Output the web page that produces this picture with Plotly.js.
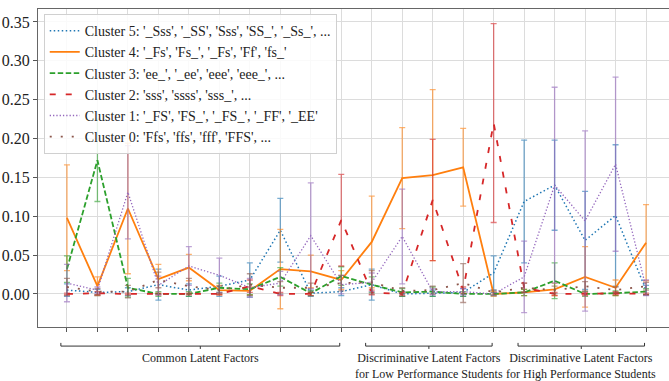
<!DOCTYPE html>
<html>
<head>
<meta charset="utf-8">
<script src="https://cdn.plot.ly/plotly-3.0.1.min.js"></script>
<style>
html,body{margin:0;padding:0;overflow:hidden;background:#fff;}
#chart{width:680px;height:381px;}
</style>
</head>
<body>
<div id="chart"></div>
<script>
// Category indices (20 latent factors)
const categories = [0,1,2,3,4,5,6,7,8,9,10,11,12,13,14,15,16,17,18,19];

// Legend names
const names = [
  "Cluster 5: '_Sss', '_SS', 'Sss', 'SS_', '_Ss_', ...",
  "Cluster 4: '_Fs', 'Fs_', '_Fs', 'Ff', 'fs_'",
  "Cluster 3: 'ee_', '_ee', 'eee', 'eee_', ...",
  "Cluster 2: 'sss', 'ssss', 'sss_', ...",
  "Cluster 1: '_FS', 'FS_', '_FS_', '_FF', '_EE'",
  "Cluster 0: 'Ffs', 'ffs', 'fff', 'FFS', ..."
];

// Series values (mean) and error (std)
const cluster5 = [0.005,0.002,0.003,0.012,0.005,0.010,0.018,0.082,0.001,0.003,0.012,0.000,0.001,0.002,0.027,0.119,0.140,0.069,0.101,0.005];
const cluster5Err = [0.008,0.004,0.005,0.020,0.008,0.013,0.022,0.041,0.004,0.005,0.020,0.003,0.004,0.005,0.022,0.079,0.058,0.063,0.091,0.006];

const cluster4 = [0.098,0.010,0.110,0.019,0.034,0.005,0.004,0.032,0.029,0.018,0.067,0.149,0.153,0.163,0.000,0.002,0.006,0.022,0.008,0.066];
const cluster4Err = [0.068,0.012,0.084,0.019,0.017,0.006,0.005,0.051,0.021,0.012,0.059,0.065,0.110,0.050,0.003,0.004,0.008,0.039,0.010,0.049];

const cluster3 = [0.032,0.172,0.008,0.000,0.000,0.008,0.006,0.022,0.001,0.023,0.012,0.002,0.003,0.000,0.000,0.002,0.017,0.000,0.001,0.003];
const cluster3Err = [0.017,0.053,0.012,0.003,0.003,0.006,0.007,0.012,0.003,0.012,0.010,0.005,0.006,0.003,0.002,0.004,0.023,0.003,0.003,0.004];

const cluster2 = [0.000,0.001,0.000,0.000,0.000,0.000,0.010,0.000,0.000,0.095,0.002,0.000,0.121,0.005,0.220,0.008,0.000,0.000,0.001,0.000];
const cluster2Err = [0.001,0.002,0.001,0.001,0.001,0.001,0.008,0.002,0.002,0.059,0.003,0.002,0.078,0.004,0.128,0.006,0.002,0.002,0.002,0.001];

const cluster1 = [0.014,0.005,0.131,0.011,0.036,0.024,0.008,0.014,0.075,0.012,0.015,0.074,0.003,0.003,0.000,0.022,0.140,0.094,0.167,0.008];
const cluster1Err = [0.024,0.004,0.060,0.012,0.025,0.022,0.012,0.015,0.068,0.012,0.012,0.061,0.004,0.004,0.002,0.046,0.126,0.116,0.112,0.010];

const cluster0 = [0.009,0.003,0.003,0.018,0.010,0.005,0.012,0.008,0.008,0.014,0.015,0.004,0.005,0.014,0.002,0.008,0.005,0.010,0.005,0.010];
const cluster0Err = [0.011,0.004,0.008,0.010,0.010,0.005,0.014,0.008,0.006,0.010,0.015,0.004,0.005,0.025,0.003,0.006,0.005,0.006,0.004,0.005];

// Y tick values
const yTicks = [0.00,0.05,0.10,0.15,0.20,0.25,0.30,0.35];

// Factor groups: label, first index, last index
const groupLabels = ["Common Latent Factors",
  "Discriminative Latent Factors<br>for Low Performance Students",
  "Discriminative Latent Factors<br>for High Performance Students"];
const groupStart = [0, 10, 15];
const groupEnd = [9, 14, 19];

const series = [cluster5, cluster4, cluster3, cluster2, cluster1, cluster0];
const errs = [cluster5Err, cluster4Err, cluster3Err, cluster2Err, cluster1Err, cluster0Err];
const colors = ['31,119,180','255,127,14','44,160,44','214,39,40','148,103,189','140,86,75'];
const dashes = ['1.5px,2.5px','solid','5.5px,2.5px','6px,10px','1.3px,2px','2px,9px'];
const widths = [1.5,1.8,1.8,1.8,1.3,1.8];

const traces = series.map((s,k)=>({
  type:'scatter', mode:'lines', x:categories, y:s, name:names[k],
  line:{color:'rgb('+colors[k]+')', dash:dashes[k], width:widths[k]},
  error_y:{type:'data', array:errs[k], visible:true, color:'rgba('+colors[k]+',0.6)', thickness:1.3, width:3}
}));

const shapes = [];
const annotations = [];
const yb = -0.060, yUp = -0.050, yDown = -0.069;
for (let g=0; g<groupLabels.length; g++){
  const lo = groupStart[g]-0.2, hi = groupEnd[g]-0.05, mid=(lo+hi)/2;
  const ln = {color:'#333', width:1};
  shapes.push({type:'line', xref:'x', yref:'paper', x0:lo, x1:hi, y0:yb, y1:yb, line:ln});
  shapes.push({type:'line', xref:'x', yref:'paper', x0:lo, x1:lo, y0:yb, y1:yUp, line:ln});
  shapes.push({type:'line', xref:'x', yref:'paper', x0:hi, x1:hi, y0:yb, y1:yUp, line:ln});
  shapes.push({type:'line', xref:'x', yref:'paper', x0:mid, x1:mid, y0:yb, y1:yDown, line:ln});
  annotations.push({xref:'x', yref:'paper', x:mid, y:-0.070, yanchor:'top', xanchor:'center',
    text:groupLabels[g], showarrow:false, align:'center',
    font:{size:12, color:'#222'}});
}

const layout = {
  width:680, height:381,
  margin:{l:38, r:5, t:9, b:54},
  font:{family:'Liberation Serif', size:14, color:'#222'},
  paper_bgcolor:'#fff', plot_bgcolor:'#fff',
  showlegend:true,
  legend:{x:0.009, y:0.984, xanchor:'left', yanchor:'top', bgcolor:'rgba(255,255,255,0.85)',
    bordercolor:'#d0d0d0', borderwidth:1, font:{size:14, color:'#222'},
    tracegroupgap:0, itemwidth:30},
  xaxis:{range:[-0.95,19.95], tickvals:categories, showticklabels:false, ticks:'outside', ticklen:4,
    tickcolor:'#555', showgrid:true, gridcolor:'#dcdcdc', gridwidth:1, zeroline:false,
    showline:true, linecolor:'#666', linewidth:1, mirror:true},
  yaxis:{range:[-0.0425,0.3667], tickvals:yTicks, tickformat:'.2f', ticks:'outside', ticklen:4,
    tickcolor:'#555', showgrid:true, gridcolor:'#dcdcdc', gridwidth:1, zeroline:false,
    showline:true, linecolor:'#666', linewidth:1, mirror:true,
    tickfont:{size:16, color:'#222'}},
  shapes:shapes, annotations:annotations
};

Plotly.newPlot('chart', traces, layout, {displayModeBar:false, staticPlot:true});
</script>
</body>
</html>
